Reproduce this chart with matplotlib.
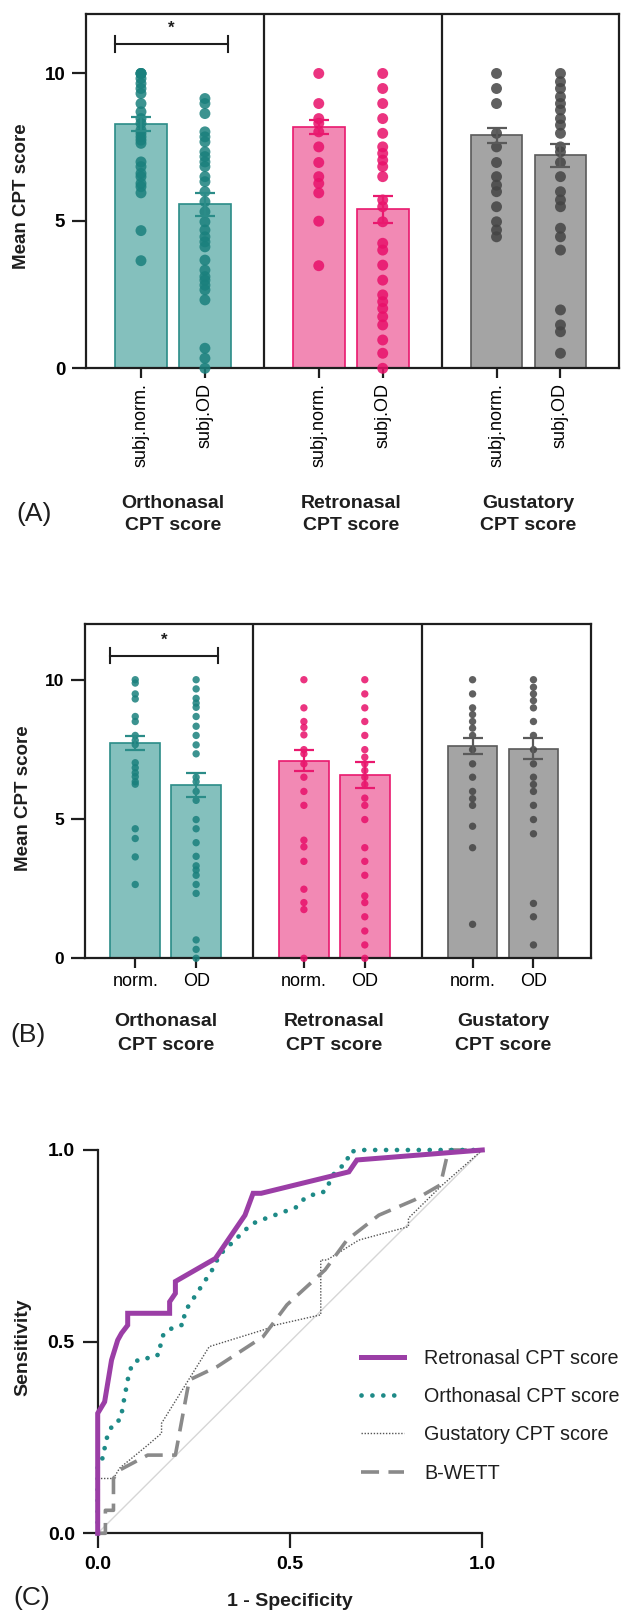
import matplotlib
matplotlib.use("Agg")
import matplotlib.pyplot as plt
import matplotlib.transforms as mtransforms

plt.rcParams['font.family'] = ['Liberation Sans', 'DejaVu Sans']

# ---------------- data ----------------
group_titles = [("Orthonasal", "CPT score"), ("Retronasal", "CPT score"), ("Gustatory", "CPT score")]
a_ticklabels = ["subj.norm.", "subj.OD"]
b_ticklabels = ["norm.", "OD"]

# Panel A (subjective normosmia vs subjective OD)
a_means = [8.29, 5.57, 8.18, 5.39, 7.90, 7.22]
a_sem = [0.24, 0.39, 0.25, 0.46, 0.25, 0.40]
a_orth_norm = [10.0, 10.0, 10.0, 9.83, 9.66, 9.49, 9.32, 8.98, 8.70, 8.47, 8.31, 8.08, 7.97, 7.85,
               7.74, 7.63, 7.00, 6.84, 6.61, 6.50, 6.27, 6.16, 5.95, 4.67, 3.65]
a_orth_od = [9.15, 8.98, 8.64, 8.02, 7.85, 7.68, 7.34, 7.18, 7.00, 6.84, 6.50, 6.33, 5.99, 5.65,
             5.31, 4.97, 4.69, 4.46, 4.29, 4.12, 3.67, 3.33, 3.11, 2.99, 2.82, 2.66, 2.32, 0.68,
             0.34, 0.0]
a_retro_norm = [10.0, 8.98, 8.47, 8.31, 8.02, 7.51, 6.98, 6.50, 6.27, 5.95, 4.99, 3.48]
a_retro_od = [10.0, 9.49, 8.98, 8.47, 7.97, 7.51, 7.29, 7.06, 6.84, 6.50, 5.71, 5.48, 4.97, 4.24,
              4.01, 3.50, 2.99, 2.49, 2.26, 2.03, 1.75, 1.47, 0.96, 0.51, 0.0]
a_gust_norm = [10.0, 9.49, 8.98, 7.97, 7.51, 6.98, 6.50, 6.21, 5.99, 5.48, 4.97, 4.69, 4.46]
a_gust_od = [10.0, 9.72, 9.49, 9.21, 8.98, 8.76, 8.47, 8.25, 7.97, 7.51, 7.34, 6.98, 6.50, 5.99,
             5.71, 5.48, 4.75, 4.46, 4.01, 1.98, 1.47, 1.24, 0.51]

# Panel B (normosmia vs OD)
b_means = [7.73, 6.21, 7.10, 6.59, 7.63, 7.52]
b_sem = [0.25, 0.43, 0.37, 0.47, 0.29, 0.37]
b_orth_norm = [10.0, 9.88, 9.49, 9.31, 8.68, 8.50, 8.00, 7.82, 7.67, 7.02, 6.84, 6.66, 6.52, 6.34,
               6.25, 4.65, 4.30, 3.64, 2.65]
b_orth_od = [10.0, 9.67, 9.33, 9.16, 9.01, 8.68, 8.33, 8.00, 7.66, 7.34, 6.50, 6.34, 5.99, 5.67,
             4.98, 4.65, 4.15, 3.66, 3.32, 3.17, 2.98, 2.65, 2.33, 0.66, 0.32, 0.0]
b_retro_norm = [10.0, 8.99, 8.50, 8.29, 8.02, 7.49, 7.34, 6.98, 6.50, 5.99, 5.49, 4.24, 4.00, 3.48,
                2.48, 2.00, 1.75, 0.0]
b_retro_od = [10.0, 9.49, 8.99, 8.50, 8.00, 7.49, 7.22, 6.98, 6.74, 6.50, 6.24, 5.75, 5.49, 4.98,
              3.97, 3.48, 2.98, 2.24, 2.00, 1.49, 0.98, 0.48, 0.0]
b_gust_norm = [10.0, 9.49, 8.99, 8.75, 8.50, 8.26, 8.00, 7.49, 6.98, 6.50, 5.99, 5.73, 5.49, 4.74,
               3.97, 1.22]
b_gust_od = [10.0, 9.73, 9.49, 9.25, 8.99, 8.50, 8.00, 7.49, 6.98, 6.50, 6.24, 5.99, 5.49, 4.98,
             4.47, 1.97, 1.49, 0.48]

# Panel C ROC curves
roc_labels = ["Retronasal CPT score", "Orthonasal CPT score", "Gustatory CPT score", "B-WETT"]
retro_fpr = [0, 0, 0.018, 0.036, 0.052, 0.062, 0.078, 0.078, 0.187, 0.187, 0.202, 0.202, 0.306,
             0.383, 0.404, 0.425, 0.653, 0.674, 1.0]
retro_tpr = [0, 0.313, 0.343, 0.452, 0.504, 0.522, 0.543, 0.574, 0.574, 0.604, 0.626, 0.657, 0.717,
             0.830, 0.887, 0.887, 0.943, 0.974, 1.0]
orth_fpr = [0, 0, 0.018, 0.018, 0.040, 0.060, 0.065, 0.080, 0.090, 0.114, 0.143, 0.163, 0.163, 0.173,
            0.200, 0.225, 0.225, 0.306, 0.314, 0.337, 0.400, 0.430, 0.515, 0.534, 0.554, 0.575,
            0.596, 0.606, 0.625, 0.648, 0.653, 0.679, 1.0]
orth_tpr = [0, 0.178, 0.204, 0.235, 0.287, 0.297, 0.330, 0.410, 0.443, 0.457, 0.457, 0.470, 0.500,
            0.523, 0.539, 0.545, 0.576, 0.700, 0.724, 0.746, 0.807, 0.819, 0.850, 0.870, 0.883,
            0.884, 0.896, 0.928, 0.950, 0.967, 0.994, 1.0, 1.0]
gust_fpr = [0, 0, 0.041, 0.057, 0.130, 0.166, 0.166, 0.290, 0.435, 0.461, 0.580, 0.580, 0.596,
            0.679, 0.808, 0.808, 0.891, 1.0]
gust_tpr = [0, 0.143, 0.143, 0.170, 0.230, 0.261, 0.287, 0.487, 0.532, 0.543, 0.570, 0.713, 0.713,
            0.765, 0.800, 0.822, 0.904, 1.0]
bwett_fpr = [0, 0.020, 0.020, 0.041, 0.041, 0.057, 0.130, 0.202, 0.238, 0.311, 0.430, 0.492, 0.591,
             0.648, 0.731, 0.824, 0.891, 0.912, 1.0]
bwett_tpr = [0, 0.0, 0.060, 0.060, 0.143, 0.165, 0.204, 0.204, 0.400, 0.435, 0.513, 0.596, 0.687,
             0.765, 0.830, 0.870, 0.909, 1.0, 1.0]

# ---------------- style ----------------
FIG_W, FIG_H = 625, 1614
DPI = 100
INK = '#1e1e1e'
fills = ['#84c0bd', '#f289b4', '#a4a4a4']
edges = ['#2b8c88', '#e9196e', '#5a5a5a']
dots = ['#1a807d', '#e8106a', '#444444']
purple = '#9b3ea6'
teal_line = '#1e8a87'
grey_line = '#8a8a8a'

fig = plt.figure(figsize=(FIG_W / DPI, FIG_H / DPI), dpi=DPI)


def ax_rect(left, top, right, bottom):
    return [left / FIG_W, 1 - bottom / FIG_H, (right - left) / FIG_W, (bottom - top) / FIG_H]


def fy(py):
    return 1 - py / FIG_H


def bar_panel(rect, means, sems, points, ticklabels, rotate, dot_s, tick_fs, title_y,
              ylabel_xy, sig_star_y, sig_y, W=2.78, off=0.86, bw=0.81):
    ax = fig.add_axes(rect)
    pos = [g * W + off + i for g in range(3) for i in range(2)]
    for k, x in enumerate(pos):
        g = k // 2
        ax.bar(x, means[k], width=bw, color=fills[g], edgecolor=edges[g], linewidth=1.2, zorder=2)
        ax.scatter([x] * len(points[k]), points[k], s=dot_s, color=dots[g], alpha=0.85,
                   edgecolors='none', zorder=3, clip_on=False)
        ax.errorbar(x, means[k], yerr=sems[k], color=edges[g], capsize=7, capthick=1.6,
                    elinewidth=1.6, zorder=4, fmt='none')
    ax.set_xlim(0, 3 * W)
    ax.set_ylim(0, 12)
    for g in (1, 2):
        ax.axvline(g * W, color=INK, lw=1.6, zorder=5)
    for sp in ax.spines.values():
        sp.set_color(INK)
        sp.set_linewidth(1.6)
    ax.set_yticks([0, 5, 10])
    ax.set_yticklabels(['0', '5', '10'], fontweight='bold', fontsize=tick_fs)
    ax.set_xticks(pos)
    ax.set_xticklabels(ticklabels * 3, rotation=90 if rotate else 0, fontsize=13)
    ax.tick_params(axis='y', length=10, width=1.6, color=INK, pad=5)
    ax.tick_params(axis='x', length=7.5, width=1.6, color=INK, pad=3)
    # significance bracket on first group
    x0 = off - bw / 2
    x1 = off + 1 + bw / 2 - 0.05
    ax.plot([x0, x1], [sig_y, sig_y], color=INK, lw=1.5)
    ax.plot([x0, x0], [sig_y - 0.27, sig_y + 0.27], color=INK, lw=1.5)
    ax.plot([x1, x1], [sig_y - 0.27, sig_y + 0.27], color=INK, lw=1.5)
    ax.text((x0 + x1) / 2, sig_star_y, '*', ha='center', va='center', fontsize=12,
            fontweight='bold', color=INK)
    trans = mtransforms.blended_transform_factory(ax.transData, fig.transFigure)
    for g, (t1, t2) in enumerate(group_titles):
        cx = g * W + off + 0.5
        ax.text(cx, fy(title_y[0]), t1, transform=trans, ha='center', va='center',
                fontsize=14, fontweight='bold', color=INK)
        ax.text(cx, fy(title_y[1]), t2, transform=trans, ha='center', va='center',
                fontsize=14, fontweight='bold', color=INK)
    fig.text(ylabel_xy[0] / FIG_W, fy(ylabel_xy[1]), 'Mean CPT score', rotation=90,
             ha='center', va='center', fontsize=13.5, fontweight='bold', color=INK)
    return ax


a_points = [a_orth_norm, a_orth_od, a_retro_norm, a_retro_od, a_gust_norm, a_gust_od]
b_points = [b_orth_norm, b_orth_od, b_retro_norm, b_retro_od, b_gust_norm, b_gust_od]

axA = bar_panel(ax_rect(86, 14.5, 619.3, 368.3), a_means, a_sem, a_points, a_ticklabels, True,
                62, 13.5, (503.3, 525.7), (21.3, 196), 11.55, 11.0)
axB = bar_panel(ax_rect(84.7, 624, 590.7, 958.3), b_means, b_sem, b_points, b_ticklabels, False,
                28, 12.5, (1021.7, 1045), (23.8, 798), 11.42, 10.86, W=2.77, off=0.83, bw=0.815)

fig.text(34 / FIG_W, fy(514), '(A)', ha='center', va='center', fontsize=19, color=INK)
fig.text(28 / FIG_W, fy(1035), '(B)', ha='center', va='center', fontsize=19, color=INK)
fig.text(32 / FIG_W, fy(1598), '(C)', ha='center', va='center', fontsize=19, color=INK)

# ---------------- Panel C ----------------
axC = fig.add_axes(ax_rect(97.7, 1150, 482.3, 1533.3))
axC.plot([0, 1], [0, 1], color='#d6d6d6', lw=1.0, zorder=1)
axC.plot(gust_fpr, gust_tpr, color='#555555', lw=1.0, ls=(0, (1, 1.2)), clip_on=False, zorder=2,
         label=roc_labels[2])
axC.plot(bwett_fpr, bwett_tpr, color=grey_line, lw=2.6, ls=(0, (5, 2.6)), clip_on=False, zorder=3,
         label=roc_labels[3])
axC.plot(orth_fpr, orth_tpr, color=teal_line, lw=3.4, ls=(0, (0.01, 2.3)), dash_capstyle='round',
         clip_on=False, zorder=4, label=roc_labels[1])
axC.plot(retro_fpr, retro_tpr, color=purple, lw=3.6, clip_on=False, zorder=5,
         solid_joinstyle='miter', label=roc_labels[0])
axC.set_xlim(0, 1)
axC.set_ylim(0, 1)
axC.spines['top'].set_visible(False)
axC.spines['right'].set_visible(False)
for sp in ('left', 'bottom'):
    axC.spines[sp].set_color(INK)
    axC.spines[sp].set_linewidth(1.6)
axC.set_xticks([0, 0.5, 1.0])
axC.set_yticks([0, 0.5, 1.0])
axC.set_xticklabels(['0.0', '0.5', '1.0'], fontweight='bold', fontsize=14)
axC.set_yticklabels(['0.0', '0.5', '1.0'], fontweight='bold', fontsize=14)
axC.tick_params(length=10.5, width=1.6, color=INK, pad=6)
fig.text(22.7 / FIG_W, fy(1346.7), 'Sensitivity', rotation=90, ha='center', va='center',
         fontsize=14, fontweight='bold', color=INK)
fig.text(289.8 / FIG_W, fy(1601.7), '1 - Specificity', ha='center', va='center',
         fontsize=14, fontweight='bold', color=INK)

handles, labels = axC.get_legend_handles_labels()
order = [labels.index(l) for l in roc_labels]
leg = axC.legend([handles[i] for i in order], [labels[i] for i in order], loc='upper left',
                 bbox_to_anchor=(0.684, 0.482), frameon=False, fontsize=14.2, handlelength=2.2,
                 handletextpad=1.0, labelspacing=0.98, borderpad=0, borderaxespad=0)
for t in leg.get_texts():
    t.set_color(INK)

fig.savefig('out.png', dpi=DPI)
